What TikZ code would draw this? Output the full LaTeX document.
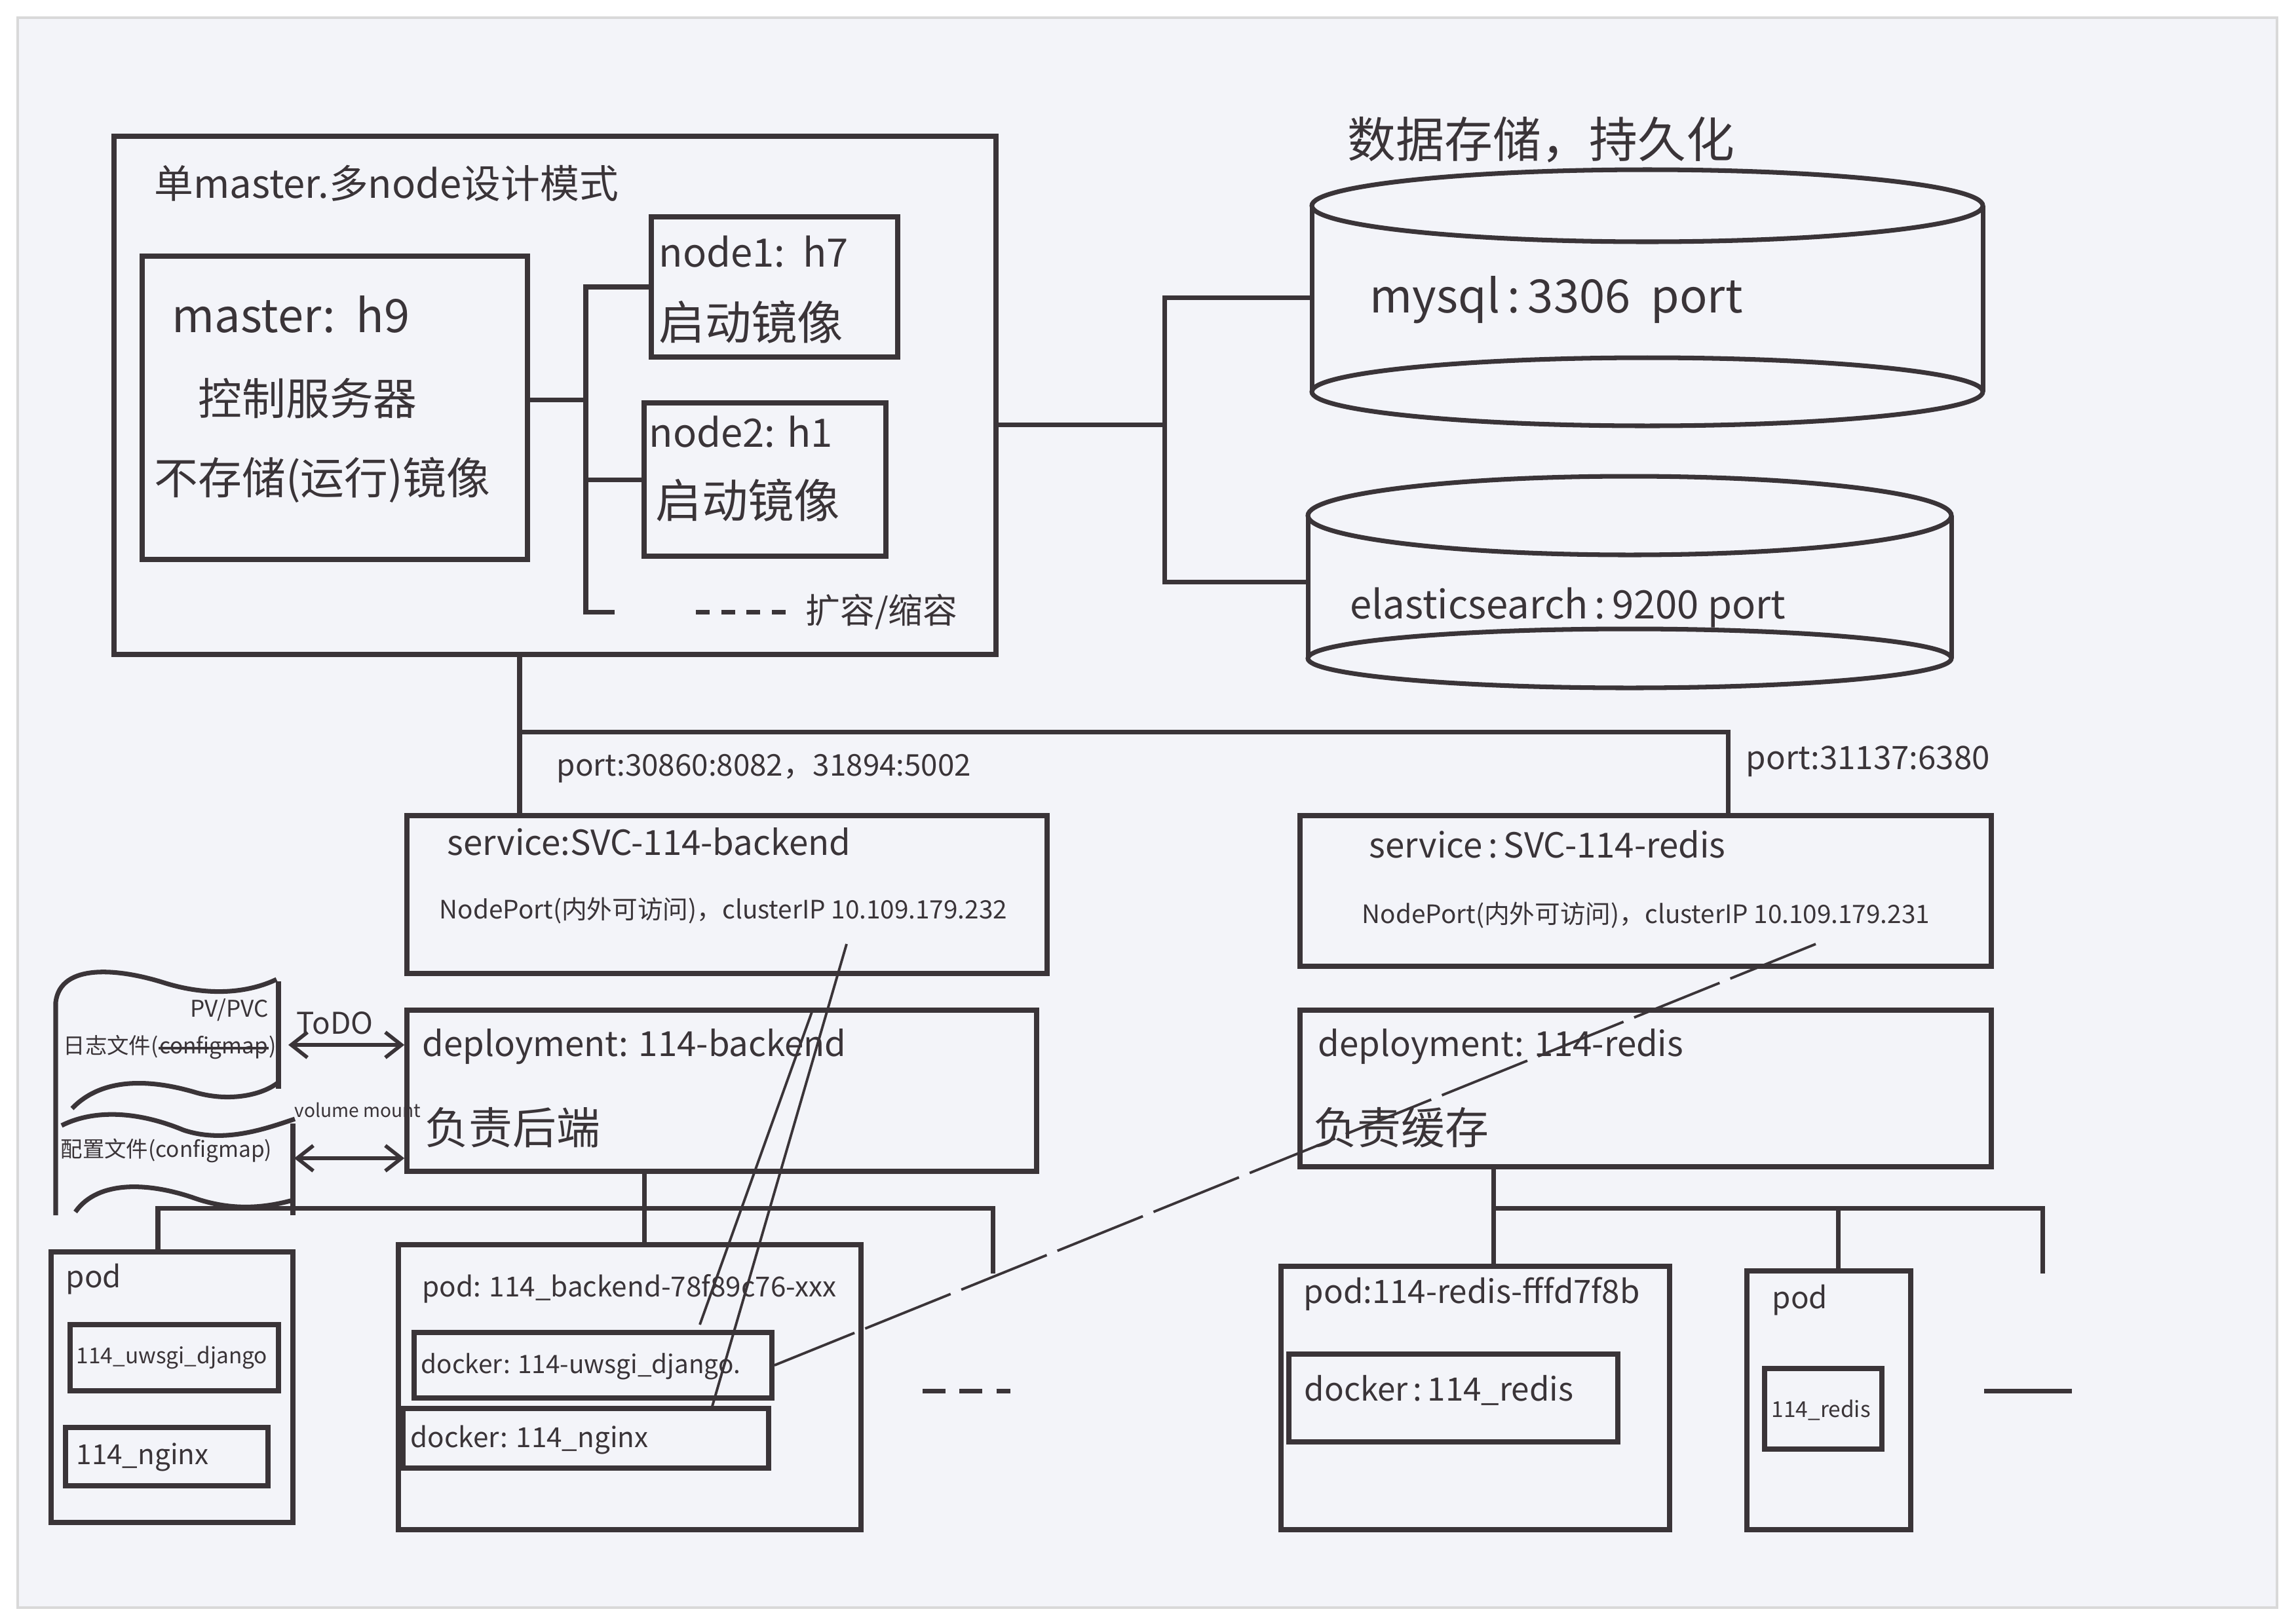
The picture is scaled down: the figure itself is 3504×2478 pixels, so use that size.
\documentclass[tikz,border=0pt]{standalone}
\usepackage{fontspec}
\setmainfont{Noto Sans CJK SC}
\usetikzlibrary{fit,calc,arrows.meta}
\definecolor{ink}{RGB}{58,52,56}
\definecolor{paper}{RGB}{243,244,249}

\begin{document}
\begin{tikzpicture}[x=0.01cm,y=-0.01cm,>={Straight Barb[length=7pt,width=11pt]},
  box/.style={draw=ink,line width=2.2pt,inner sep=0pt},
  wire/.style={draw=ink,line width=2pt},
  stray/.style={draw=ink,line width=1.1pt},
  txt/.style={text=ink,anchor=west,inner sep=0pt},
  sz/.style={font=\fontsize{#1}{#1}\selectfont}]
   \useasboundingbox (0,0) rectangle (3504,2478);
   %paper
   \fill[white] (0,0) rectangle (3504,2478);
   \filldraw[fill=paper,draw=gray!30,line width=1pt] (27,27) rectangle (3475,2454);
   %cluster
   \node[box,fit={(174,208) (1520,999)}] (cluster) {};
   \node[txt,sz=17] (clustert) at (235,280) {单master.多node设计模式};
   \node[box,fit={(217,391) (805,854)}] (master) {};
   \node[txt,sz=20] (mastert) at (262,480) {master:\ \ h9};
   \node[txt,sz=19] (mastert2) at (302,608) {控制服务器};
   \node[txt,sz=19] (mastert3) at (235,733) {不存储(运行)镜像};
   \node[box,fit={(994,331) (1370,545)}] (node1) {};
   \node[txt,sz=17] (node1t) at (1005,384) {node1:\ \ h7};
   \node[txt,sz=20] (node1t2) at (1005,492) {启动镜像};
   \node[box,fit={(983,615) (1352,849)}] (node2) {};
   \node[txt,sz=17] (node2t) at (990,659) {node2: h1};
   \node[txt,sz=20] (node2t2) at (1000,764) {启动镜像};
   \node[txt,sz=15] (scale) at (1229,934) {扩容/缩容};
   %master to nodes
   \coordinate (mbus) at (894,610);
   \coordinate (scalel) at (894,934);
   \draw[wire] (master.east |- mbus) -- (mbus);
   \draw[wire] (node1.west) -- (node1.west -| mbus) -- (scalel) -- ++(44,0);
   \draw[wire] (node2.west) -- (node2.west -| mbus);
   \draw[wire,dash pattern=on 6pt off 5pt] ($(scale.west)+(-167,0)$) -- ($(scale.west)+(-18,0)$);
   %storage
   \node[txt,sz=21] (dbt) at (2056,213) {数据存储，持久化};
   \node[inner sep=0pt,fit={(2002,259) (3025,650)}] (mysql) {};
   \draw[wire] (2514,314) ellipse[x radius=512,y radius=55];
   \draw[wire] (2514,598) ellipse[x radius=512,y radius=52];
   \draw[wire] (2002,314) -- (2002,598);
   \draw[wire] (3026,314) -- (3026,598);
   \node[txt,sz=20] (mysqlt) at (2090,458) {mysql\,:\,3306\ \ port};
   \node[inner sep=0pt,fit={(1996,727) (2977,1050)}] (es) {};
   \draw[wire] (2487,787) ellipse[x radius=491,y radius=60];
   \draw[wire] (2487,1005) ellipse[x radius=491,y radius=45];
   \draw[wire] (1996,787) -- (1996,1005);
   \draw[wire] (2978,787) -- (2978,1005);
   \node[txt,sz=17] (est) at (2060,928) {elasticsearch\,:\,9200 port};
   \coordinate (dbus) at (1777,648);
   \draw[wire] (cluster.east |- dbus) -- (dbus);
   \draw[wire] (mysql.west) -- (mysql.west -| dbus) -- (es.west -| dbus) -- (es.west);
   %services
   \node[box,fit={(621,1245) (1598,1486)}] (bsvc) {};
   \node[txt,sz=15] (bsvct) at (682,1285) {service:SVC-114-backend};
   \node[txt,sz=11] (bsvct2) at (670,1390) {NodePort(内外可访问)，clusterIP 10.109.179.232};
   \node[box,fit={(1984,1245) (3039,1475)}] (rsvc) {};
   \node[txt,sz=15] (rsvct) at (2089,1289) {service\,:\,SVC-114-redis};
   \node[txt,sz=11] (rsvct2) at (2078,1397) {NodePort(内外可访问)，clusterIP 10.109.179.231};
   \coordinate (split) at (793,1117);
   \coordinate (rdrop) at (2637,1117);
   \draw[wire] (split |- cluster.south) -- (split |- bsvc.north);
   \draw[wire] (split) -- (rdrop) -- (rdrop |- rsvc.north);
   \node[txt,sz=13] (bport) at (849,1173) {port:30860:8082，31894:5002};
   \node[txt,sz=14] (rport) at (2664,1162) {port:31137:6380};
   %deployments
   \node[box,fit={(621,1542) (1582,1788)}] (bdep) {};
   \node[txt,sz=15] (bdept) at (644,1598) {deployment: 114-backend};
   \node[txt,sz=19] (bdept2) at (648,1721) {负责后端};
   \node[box,fit={(1984,1542) (3039,1781)}] (rdep) {};
   \node[txt,sz=15] (rdept) at (2011,1598) {deployment: 114-redis};
   \node[txt,sz=19] (rdept2) at (2004,1721) {负责缓存};
   %files
   \draw[wire] (85,1855) -- (85,1530) .. controls (92,1470) and (180,1478) .. (250,1500) .. controls (320,1522) and (380,1515) .. (422,1495);
   \draw[wire] (425,1498) -- (425,1662);
   \draw[wire] (110,1692) .. controls (160,1640) and (240,1650) .. (300,1668) .. controls (350,1682) and (400,1672) .. (425,1652);
   \draw[wire] (94,1718) .. controls (150,1690) and (220,1700) .. (280,1725) .. controls (340,1745) and (400,1725) .. (450,1708);
   \draw[wire] (447,1715) -- (447,1855);
   \draw[wire] (115,1850) .. controls (150,1800) and (230,1805) .. (300,1830) .. controls (360,1850) and (410,1842) .. (447,1832);
   \node[txt,sz=9.5] (logt) at (96,1598) {日志文件(};
   \node[txt,sz=9.5,anchor=base west] (logcfg) at (logt.base east) {configmap};
   \node[txt,sz=9.5,anchor=base west] (logend) at (logcfg.base east) {)};
   \draw[stray] (logcfg.west) -- (logcfg.east);
   \node[txt,sz=10] (pvt) at (290,1542) {PV/PVC};
   \node[txt,sz=9.5] (conft) at (92,1756) {配置文件(configmap)};
   \node[txt,sz=13] (todo) at (452,1562) {ToDO};
   \node[txt,sz=8] (mount) at (449,1694) {volume mount};
   \coordinate (todoa) at (440,1595);
   \coordinate (mounta) at (449,1768);
   \draw[wire,line width=1.6pt,<->] (todoa) -- (todoa -| bdep.west);
   \draw[wire,line width=1.6pt,<->] (mounta) -- (mounta -| bdep.west);
   %backend pods
   \node[box,fit={(78,1911) (447,2324)}] (bpod1) {};
   \node[txt,sz=13] (bpod1t) at (100,1952) {pod};
   \node[box,fit={(107,2022) (425,2123)}] (bpod1a) {};
   \node[txt,sz=9.5] (bpod1at) at (116,2072) {114\_uwsgi\_django};
   \node[box,fit={(100,2179) (409,2268)}] (bpod1b) {};
   \node[txt,sz=12] (bpod1bt) at (116,2224) {114\_nginx};
   \node[box,fit={(608,1900) (1314,2335)}] (bpod2) {};
   \node[txt,sz=12] (bpod2t) at (644,1967) {pod: 114\_backend-78f89c76-xxx};
   \node[box,fit={(632,2034) (1178,2134)}] (bdock1) {};
   \node[txt,sz=11] (bdock1t) at (642,2086) {docker: 114-uwsgi\_django.};
   \node[box,fit={(615,2150) (1173,2241)}] (bdock2) {};
   \node[txt,sz=12] (bdock2t) at (626,2198) {docker: 114\_nginx};
   \coordinate (bbus) at (983,1844);
   \coordinate (bl) at (241,1844);
   \coordinate (br) at (1515,1844);
   \draw[wire] (bbus |- bdep.south) -- (bbus) -- (bbus |- bpod2.north);
   \draw[wire] (bl |- bpod1.north) -- (bl) -- (br) -- ++(0,100);
   \draw[wire,dash pattern=on 10pt off 6pt] (1408,2123) -- (1542,2123);
   %redis pods
   \node[box,fit={(1955,1933) (2548,2335)}] (rpod1) {};
   \node[txt,sz=14] (rpod1t) at (1989,1975) {pod:114-redis-fffd7f8b};
   \node[box,fit={(1967,2067) (2469,2201)}] (rdock1) {};
   \node[txt,sz=14] (rdock1t) at (1990,2122) {docker\,:\,114\_redis};
   \node[box,fit={(2666,1940) (2916,2335)}] (rpod2) {};
   \node[txt,sz=13] (rpod2t) at (2704,1984) {pod};
   \node[box,fit={(2693,2089) (2872,2212)}] (rdock2) {};
   \node[txt,sz=9.5] (rdock2t) at (2703,2152) {114\_redis};
   \coordinate (rbus) at (2279,1844);
   \coordinate (rm) at (2805,1844);
   \coordinate (rr) at (3117,1844);
   \draw[wire] (rbus |- rdep.south) -- (rbus |- rpod1.north);
   \draw[wire] (rbus) -- (rr) -- ++(0,100);
   \draw[wire] (rm) -- (rm |- rpod2.north);
   \draw[wire] (3028,2123) -- (3162,2123);
   %clusterIP links
   \coordinate (bip) at (1292,1441);
   \coordinate (bip2) at (1240,1542);
   \coordinate (rip) at (2771,1441);
   \draw[stray] (bip) -- (1086,2150);
   \draw[stray] (bip2) -- (1068,2022);
   \draw[stray,dash pattern=on 40pt off 5pt] (rip) -- (bdock1.east);
  \end{tikzpicture}
\end{document}
